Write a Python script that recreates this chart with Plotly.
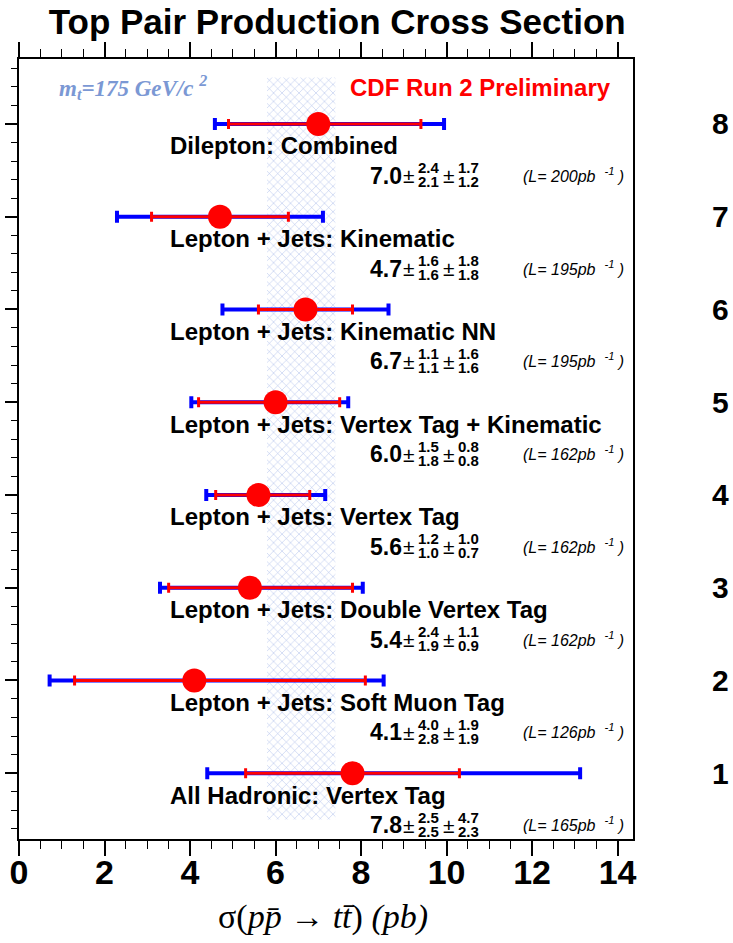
import numpy as np
import plotly.graph_objects as go

# Measurements (pb), bottom row = 1
rows = [1, 2, 3, 4, 5, 6, 7, 8]
names = ["All Hadronic: Vertex Tag",
         "Lepton + Jets: Soft Muon Tag",
         "Lepton + Jets: Double Vertex Tag",
         "Lepton + Jets: Vertex Tag",
         "Lepton + Jets: Vertex Tag + Kinematic",
         "Lepton + Jets: Kinematic NN",
         "Lepton + Jets: Kinematic",
         "Dilepton: Combined"]
xsec = [7.8, 4.1, 5.4, 5.6, 6.0, 6.7, 4.7, 7.0]
stat_up = [2.5, 4.0, 2.4, 1.2, 1.5, 1.1, 1.6, 2.4]
stat_dn = [2.5, 2.8, 1.9, 1.0, 1.8, 1.1, 1.6, 2.1]
syst_up = [4.7, 1.9, 1.1, 1.0, 0.8, 1.6, 1.8, 1.7]
syst_dn = [2.3, 1.9, 0.9, 0.7, 0.8, 1.6, 1.8, 1.2]
lumi = [165, 126, 162, 162, 162, 195, 195, 200]

# theory band (mt = 175 GeV/c^2)
theory = 6.7
theory_up = 0.7
theory_dn = 0.9
band_rows = [0.5, 8.5]

tot_up = np.sqrt(np.array(stat_up) ** 2 + np.array(syst_up) ** 2)
tot_dn = np.sqrt(np.array(stat_dn) ** 2 + np.array(syst_dn) ** 2)

SANS = "Liberation Sans"
SERIF = "Liberation Serif"

fig = go.Figure()

# hatched theory band
lo, hi = theory - theory_dn, theory + theory_up
fig.add_trace(go.Scatter(
    x=[lo, hi, hi, lo, lo],
    y=[band_rows[0], band_rows[0], band_rows[1], band_rows[1], band_rows[0]],
    mode="lines", fill="toself", line=dict(width=0),
    fillcolor="rgba(0,0,0,0)",
    fillpattern=dict(shape="x", fgcolor="#a6b8e8", bgcolor="white",
                     size=6, solidity=0.15, fillmode="replace"),
    hoverinfo="skip"))

# total uncertainty (blue)
fig.add_trace(go.Scatter(
    x=xsec, y=rows, mode="markers",
    marker=dict(size=1, color="rgba(0,0,0,0)"),
    error_x=dict(type="data", symmetric=False, array=tot_up, arrayminus=tot_dn,
                 color="#0000ff", thickness=4, width=6)))

# statistical uncertainty (red) + central value
fig.add_trace(go.Scatter(
    x=xsec, y=rows, mode="markers",
    marker=dict(size=24, color="#ff0000", line=dict(width=0)),
    error_x=dict(type="data", symmetric=False, array=stat_up, arrayminus=stat_dn,
                 color="#ff0000", thickness=3, width=5)))

# dummy trace for the right-hand row numbers
fig.add_trace(go.Scatter(x=xsec, y=rows, yaxis="y2", mode="markers",
                         marker=dict(size=1, color="rgba(0,0,0,0)"),
                         hoverinfo="skip"))

annotations = []
label_x = 3.48
val_x = 8.16
for r, n, v, su, sd, yu, yd, L in zip(rows, names, xsec, stat_up, stat_dn,
                                       syst_up, syst_dn, lumi):
    annotations.append(dict(x=label_x, y=r, yshift=-22, text="<b>%s</b>" % n,
                            xanchor="left", yanchor="middle", showarrow=False,
                            font=dict(family=SANS, size=24, color="black")))
    annotations.append(dict(x=val_x, y=r, yshift=-52, text="<b>%.1f</b>" % v,
                            xanchor="left", yanchor="middle", showarrow=False,
                            font=dict(family=SANS, size=23, color="black")))
    for dx, up, dn in [(41, su, sd), (81, yu, yd)]:
        annotations.append(dict(x=val_x, y=r, xshift=dx, yshift=-52, text="±",
                                xanchor="center", yanchor="middle", showarrow=False,
                                font=dict(family=SANS, size=21, color="black")))
        annotations.append(dict(x=val_x, y=r, xshift=dx + 20, yshift=-44,
                                text="<b>%.1f</b>" % up,
                                xanchor="center", yanchor="middle", showarrow=False,
                                font=dict(family=SANS, size=15, color="black")))
        annotations.append(dict(x=val_x, y=r, xshift=dx + 20, yshift=-58,
                                text="<b>%.1f</b>" % dn,
                                xanchor="center", yanchor="middle", showarrow=False,
                                font=dict(family=SANS, size=15, color="black")))
    annotations.append(dict(x=val_x, y=r, xshift=153, yshift=-51,
                            text="<i>(L= %dpb  <sup>-1</sup> )</i>" % L,
                            xanchor="left", yanchor="middle", showarrow=False,
                            font=dict(family=SANS, size=16, color="black")))

annotations.append(dict(xref="paper", yref="paper", x=0.062, y=0.963,
                        text="<b><i>m<sub>t</sub>=175 GeV/c <sup>2</sup></i></b>",
                        xanchor="left", yanchor="middle", showarrow=False,
                        font=dict(family=SERIF, size=23, color="#7b98d4")))
annotations.append(dict(xref="paper", yref="paper", x=0.967, y=0.963,
                        text="<b>CDF Run 2 Preliminary</b>",
                        xanchor="right", yanchor="middle", showarrow=False,
                        font=dict(family=SANS, size=24, color="#ff0000")))
annotations.append(dict(xref="paper", yref="paper", x=0.495, y=-0.1,
                        text="σ(<i>pp̄</i> → <i>tt̄</i>) <i>(pb)</i>",
                        xanchor="center", yanchor="middle", showarrow=False,
                        font=dict(family=SERIF, size=34, color="black")))

fig.update_layout(
    width=733, height=943,
    margin=dict(l=19, r=100, t=59, b=104, autoexpand=False),
    paper_bgcolor="white", plot_bgcolor="white",
    showlegend=False,
    title=dict(text="<b>Top Pair Production Cross Section</b>",
               x=0.46, y=0.9767, xanchor="center", yanchor="middle",
               font=dict(family=SANS, size=35, color="black")),
    xaxis=dict(range=[0, 14.36], tick0=0, dtick=2, ticks="outside", ticklen=15,
               tickwidth=1.5, tickcolor="black", automargin=False,
               minor=dict(dtick=0.5, ticklen=8, tickwidth=1.2, ticks="outside",
                          tickcolor="black"),
               showline=True, linewidth=1.5, linecolor="black", mirror="ticks",
               showgrid=False, zeroline=False, ticklabelstandoff=-13,
               tickfont=dict(family=SANS, size=34, color="black", weight="bold")),
    yaxis=dict(range=[0.29, 8.7], tick0=0, dtick=1, ticks="outside", ticklen=12,
               tickwidth=1.5, tickcolor="black", automargin=False,
               minor=dict(dtick=0.2, ticklen=6, tickwidth=1.2, ticks="outside",
                          tickcolor="black"),
               showticklabels=False, showline=True, linewidth=1.5,
               linecolor="black", mirror=True, showgrid=False, zeroline=False),
    yaxis2=dict(range=[0.29, 8.7], overlaying="y", side="right",
                tickvals=rows, ticktext=[str(r) for r in rows], ticks="",
                showline=False, showgrid=False, zeroline=False, automargin=False,
                ticklabelstandoff=78,
                tickfont=dict(family=SANS, size=30, color="black", weight="bold")),
    annotations=annotations,
)

# drop the default page margin so the figure sits at the window's corner
fig.write_html("out.html", config={"displayModeBar": False},
               post_script="document.body.style.margin='0';")
